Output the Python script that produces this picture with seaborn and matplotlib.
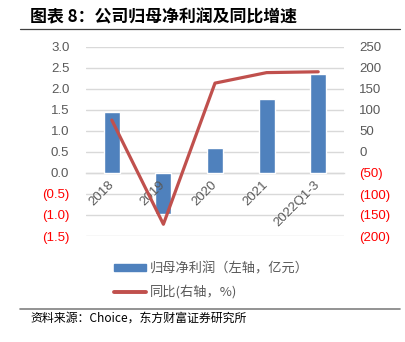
import matplotlib
matplotlib.use("Agg")
import matplotlib.pyplot as plt
import seaborn as sns
import pandas as pd
from matplotlib.lines import Line2D
from matplotlib.patches import Patch

# Data
years = ["2018", "2019", "2020", "2021", "2022Q1-3"]
net_profit = [1.45, -0.97, 0.60, 1.75, 2.35]      # 亿元, left axis
yoy_growth = [76, -172, 164, 189, 191]            # %, right axis

left_ticks = [3.0, 2.5, 2.0, 1.5, 1.0, 0.5, 0.0, -0.5, -1.0, -1.5]
right_ticks = [250, 200, 150, 100, 50, 0, -50, -100, -150, -200]

bar_color = "#4F81BD"
line_color = "#C0504D"
text_gray = "#595959"
neg_red = "#FF0000"
grid_gray = "#D9D9D9"

sns.set_theme(style="white")
plt.rcParams["font.family"] = ["Liberation Sans", "Noto Sans CJK SC", "DejaVu Sans"]

fig = plt.figure(figsize=(4.06, 3.42), dpi=100)
ax = fig.add_axes([86 / 406, 1 - 236 / 342, (344 - 86) / 406, (236 - 47) / 342])

df = pd.DataFrame({"year": years, "profit": net_profit, "yoy": yoy_growth})

sns.barplot(data=df, x="year", y="profit", color=bar_color, width=0.31,
            saturation=1, ax=ax, zorder=2)
ax.set_ylim(-1.5, 3.0)
ax.set_xlim(-0.5, len(years) - 0.5)
ax.set_yticks(left_ticks)
ax.set_yticklabels([f"{v:.1f}" if v >= 0 else f"({abs(v):.1f})" for v in left_ticks])
for lab, v in zip(ax.get_yticklabels(), left_ticks):
    lab.set_color(text_gray if v >= 0 else neg_red)
ax.tick_params(axis="y", length=0, pad=12, labelsize=9.5)
ax.yaxis.grid(True, color=grid_gray, linewidth=1.0)
ax.set_axisbelow(True)
# category labels sit on top of the bars
ax.xaxis.set_zorder(2.5)
ax.set_xlabel("")
ax.set_ylabel("")
for s in ["top", "right", "left"]:
    ax.spines[s].set_visible(False)
ax.spines["bottom"].set_position(("data", 0))
ax.spines["bottom"].set_color(grid_gray)
ax.spines["bottom"].set_linewidth(1.0)
ax.spines["bottom"].set_zorder(1)
ax.tick_params(axis="x", length=0, pad=7, labelsize=9.5, labelcolor=text_gray)
for lab in ax.get_xticklabels():
    lab.set_rotation(45)
    lab.set_ha("right")
    lab.set_va("center")
    lab.set_rotation_mode("anchor")

ax2 = ax.twinx()
sns.lineplot(data=df, x="year", y="yoy", color=line_color, linewidth=2.3,
             sort=False, ax=ax2, zorder=3)
ax2.set_ylim(-200, 250)
ax2.set_yticks(right_ticks)
ax2.set_yticklabels([f"{v}" if v >= 0 else f"({abs(v)})" for v in right_ticks])
for lab, v in zip(ax2.get_yticklabels(), right_ticks):
    lab.set_color(text_gray if v >= 0 else neg_red)
ax2.tick_params(axis="y", length=0, pad=11, labelsize=9.5)
ax2.set_ylabel("")
for s in ax2.spines.values():
    s.set_visible(False)

# Legend
handles = [Patch(facecolor=bar_color, edgecolor=bar_color),
           Line2D([0], [0], color=line_color, linewidth=2.8)]
labels = ["归母净利润（左轴，亿元）", "同比(右轴，%)"]
leg = fig.legend(handles, labels, loc="upper left", bbox_to_anchor=(102 / 406, 1 - 250 / 342),
                 frameon=False, ncol=1, handlelength=2.4, handleheight=0.45,
                 handletextpad=0.3, labelspacing=0.75, alignment="left",
                 prop={"family": ["Noto Sans CJK SC"], "size": 9.5})
for t in leg.get_texts():
    t.set_color(text_gray)

# Title, rules and source
fig.text(30 / 406, 1 - 17 / 342, "图表 8：公司归母净利润及同比增速", ha="left", va="center",
         fontsize=12.2, fontweight="bold", color="black",
         family=["Noto Sans CJK SC", "DejaVu Sans"])
fig.add_artist(Line2D([20 / 406, 400 / 406], [1 - 29 / 342, 1 - 29 / 342],
                      color="#404040", linewidth=0.9))
fig.add_artist(Line2D([20 / 406, 400 / 406], [1 - 309 / 342, 1 - 309 / 342],
                      color="#808080", linewidth=1.2))
fig.text(30 / 406, 1 - 318 / 342, "资料来源：Choice，东方财富证券研究所", ha="left", va="center",
         fontsize=8.6, color="black", family=["Noto Sans CJK SC", "DejaVu Sans"])

fig.savefig("out.png", dpi=100)
